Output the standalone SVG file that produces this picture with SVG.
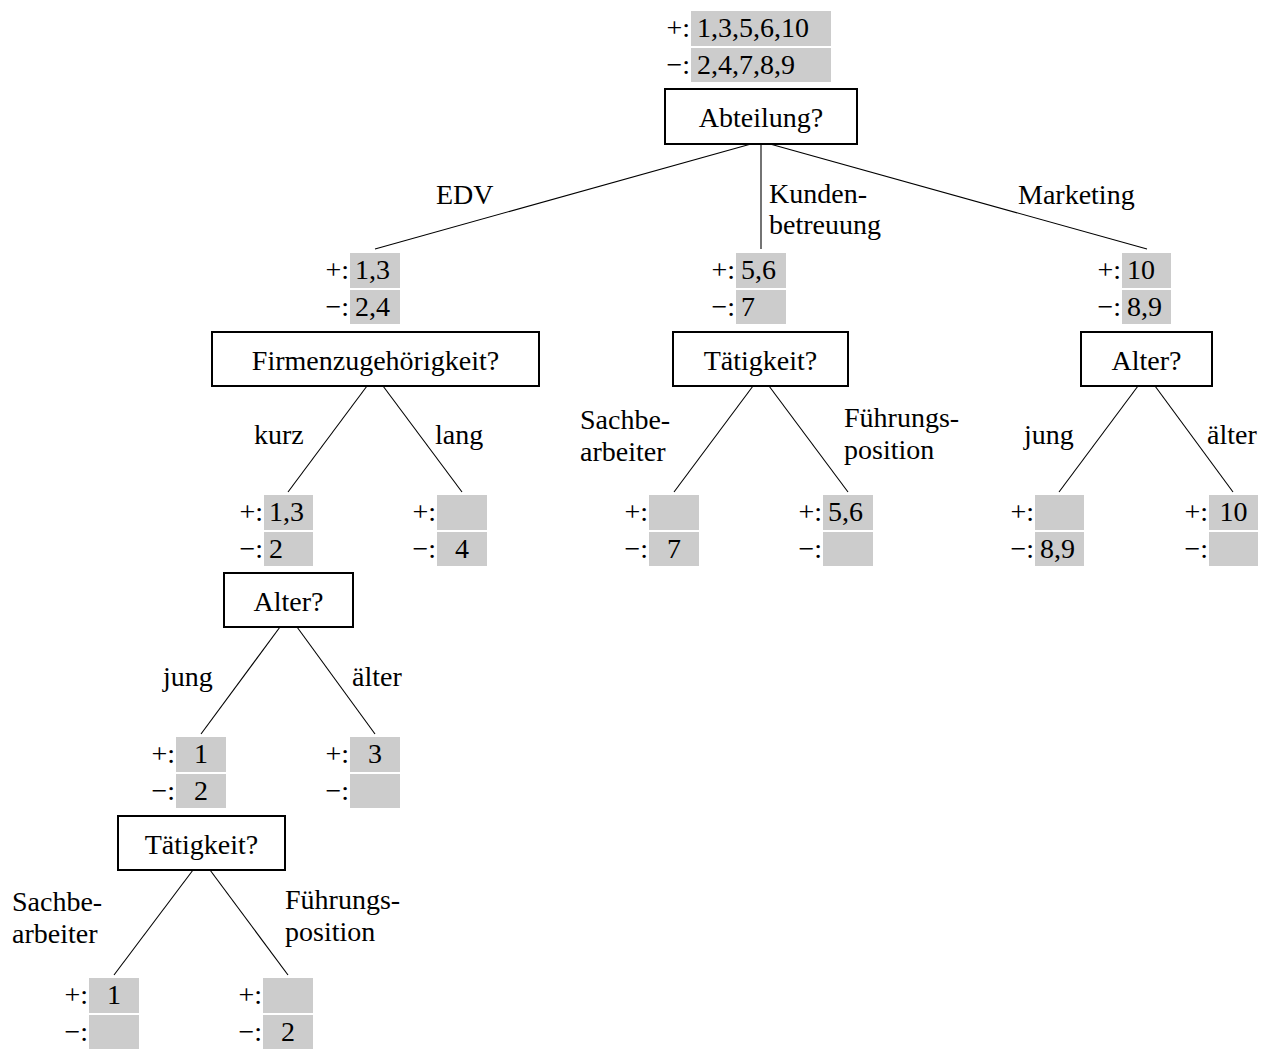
<svg xmlns="http://www.w3.org/2000/svg" width="1265" height="1050" viewBox="0 0 1265 1050">
  <style>
    text { font-family: "Liberation Serif", "Times New Roman", serif; font-size: 28px; fill: #000; }
    .cnt { fill: #cccccc; }
    .q { fill: #fff; stroke: #000; stroke-width: 2; }
    .sgn { text-anchor: end; }
    .mid { text-anchor: middle; }
    .edge { stroke: #000; stroke-width: 1.1; fill: none; }
  </style>

  <!-- connectors -->
  <g id="connectors" class="edge">
    <line x1="751" y1="144" x2="375" y2="249"/>
    <line x1="761" y1="144" x2="761" y2="249"/>
    <line x1="770" y1="144" x2="1147" y2="249"/>

    <line x1="367" y1="386" x2="288" y2="492"/>
    <line x1="383" y1="386" x2="462" y2="492"/>

    <line x1="753" y1="386" x2="674" y2="492"/>
    <line x1="769" y1="386" x2="848" y2="492"/>

    <line x1="1138" y1="386" x2="1059" y2="492"/>
    <line x1="1155" y1="386" x2="1233" y2="492"/>

    <line x1="280" y1="627" x2="201" y2="734"/>
    <line x1="297" y1="627" x2="375" y2="734"/>

    <line x1="193" y1="870" x2="114" y2="975"/>
    <line x1="210" y1="870" x2="288" y2="975"/>
  </g>

  <!-- edge labels -->
  <g id="edge-labels">
    <text x="436" y="204">EDV</text>
    <text x="769" y="203">Kunden-</text>
    <text x="769" y="234">betreuung</text>
    <text x="1018" y="204">Marketing</text>

    <text x="254" y="444">kurz</text>
    <text x="435" y="444">lang</text>

    <text x="580" y="429">Sachbe-</text>
    <text x="580" y="461">arbeiter</text>
    <text x="844" y="427">Führungs-</text>
    <text x="844" y="459">position</text>

    <text x="1024" y="444">jung</text>
    <text x="1207" y="444">älter</text>

    <text x="163" y="686">jung</text>
    <text x="352" y="686">älter</text>

    <text x="12" y="911">Sachbe-</text>
    <text x="12" y="943">arbeiter</text>
    <text x="285" y="909">Führungs-</text>
    <text x="285" y="941">position</text>
  </g>

  <!-- root: Abteilung -->
  <g id="n-root">
    <rect class="cnt" x="691" y="11" width="140" height="35"/>
    <rect class="cnt" x="691" y="48" width="140" height="34"/>
    <text class="sgn" x="690" y="37">+:</text>
    <text class="sgn" x="690" y="74">−:</text>
    <text x="697" y="37">1,3,5,6,10</text>
    <text x="697" y="74">2,4,7,8,9</text>
    <rect class="q" x="665" y="89" width="192" height="55"/>
    <text class="mid" x="761" y="127">Abteilung?</text>
  </g>

  <!-- EDV: Firmenzugehörigkeit -->
  <g id="n-edv">
    <rect class="cnt" x="350" y="253" width="50" height="35"/>
    <rect class="cnt" x="350" y="290" width="50" height="34"/>
    <text class="sgn" x="349" y="279">+:</text>
    <text class="sgn" x="349" y="316">−:</text>
    <text x="355" y="279">1,3</text>
    <text x="355" y="316">2,4</text>
    <rect class="q" x="212" y="332" width="327" height="54"/>
    <text class="mid" x="375.5" y="370">Firmenzugehörigkeit?</text>
  </g>

  <!-- Kundenbetreuung: Tätigkeit -->
  <g id="n-kunden">
    <rect class="cnt" x="736" y="253" width="50" height="35"/>
    <rect class="cnt" x="736" y="290" width="50" height="34"/>
    <text class="sgn" x="735" y="279">+:</text>
    <text class="sgn" x="735" y="316">−:</text>
    <text x="741" y="279">5,6</text>
    <text x="741" y="316">7</text>
    <rect class="q" x="673" y="332" width="175" height="54"/>
    <text class="mid" x="760.5" y="370">Tätigkeit?</text>
  </g>

  <!-- Marketing: Alter -->
  <g id="n-marketing">
    <rect class="cnt" x="1122" y="253" width="49" height="35"/>
    <rect class="cnt" x="1122" y="290" width="49" height="34"/>
    <text class="sgn" x="1121" y="279">+:</text>
    <text class="sgn" x="1121" y="316">−:</text>
    <text x="1127" y="279">10</text>
    <text x="1127" y="316">8,9</text>
    <rect class="q" x="1081" y="332" width="131" height="54"/>
    <text class="mid" x="1146.5" y="370">Alter?</text>
  </g>

  <!-- EDV / kurz: Alter -->
  <g id="n-edv-kurz">
    <rect class="cnt" x="264" y="495" width="49" height="35"/>
    <rect class="cnt" x="264" y="532" width="49" height="34"/>
    <text class="sgn" x="263" y="521">+:</text>
    <text class="sgn" x="263" y="558">−:</text>
    <text x="269" y="521">1,3</text>
    <text x="269" y="558">2</text>
    <rect class="q" x="224" y="573" width="129" height="54"/>
    <text class="mid" x="288.5" y="611">Alter?</text>
  </g>

  <!-- EDV / lang: leaf -->
  <g id="n-edv-lang">
    <rect class="cnt" x="437" y="495" width="50" height="35"/>
    <rect class="cnt" x="437" y="532" width="50" height="34"/>
    <text class="sgn" x="436" y="521">+:</text>
    <text class="sgn" x="436" y="558">−:</text>
    <text class="mid" x="462" y="558">4</text>
  </g>

  <!-- Kundenbetreuung / Sachbearbeiter: leaf -->
  <g id="n-kunden-sach">
    <rect class="cnt" x="649" y="495" width="50" height="35"/>
    <rect class="cnt" x="649" y="532" width="50" height="34"/>
    <text class="sgn" x="648" y="521">+:</text>
    <text class="sgn" x="648" y="558">−:</text>
    <text class="mid" x="674" y="558">7</text>
  </g>

  <!-- Kundenbetreuung / Führungsposition: leaf -->
  <g id="n-kunden-fuehr">
    <rect class="cnt" x="823" y="495" width="50" height="35"/>
    <rect class="cnt" x="823" y="532" width="50" height="34"/>
    <text class="sgn" x="822" y="521">+:</text>
    <text class="sgn" x="822" y="558">−:</text>
    <text x="828" y="521">5,6</text>
  </g>

  <!-- Marketing / jung: leaf -->
  <g id="n-mkt-jung">
    <rect class="cnt" x="1035" y="495" width="49" height="35"/>
    <rect class="cnt" x="1035" y="532" width="49" height="34"/>
    <text class="sgn" x="1034" y="521">+:</text>
    <text class="sgn" x="1034" y="558">−:</text>
    <text x="1040" y="558">8,9</text>
  </g>

  <!-- Marketing / älter: leaf -->
  <g id="n-mkt-aelter">
    <rect class="cnt" x="1209" y="495" width="49" height="35"/>
    <rect class="cnt" x="1209" y="532" width="49" height="34"/>
    <text class="sgn" x="1208" y="521">+:</text>
    <text class="sgn" x="1208" y="558">−:</text>
    <text class="mid" x="1233.5" y="521">10</text>
  </g>

  <!-- EDV / kurz / jung: Tätigkeit -->
  <g id="n-kurz-jung">
    <rect class="cnt" x="176" y="737" width="50" height="35"/>
    <rect class="cnt" x="176" y="774" width="50" height="34"/>
    <text class="sgn" x="175" y="763">+:</text>
    <text class="sgn" x="175" y="800">−:</text>
    <text class="mid" x="201" y="763">1</text>
    <text class="mid" x="201" y="800">2</text>
    <rect class="q" x="118" y="816" width="167" height="54"/>
    <text class="mid" x="201.5" y="854">Tätigkeit?</text>
  </g>

  <!-- EDV / kurz / älter: leaf -->
  <g id="n-kurz-aelter">
    <rect class="cnt" x="350" y="737" width="50" height="35"/>
    <rect class="cnt" x="350" y="774" width="50" height="34"/>
    <text class="sgn" x="349" y="763">+:</text>
    <text class="sgn" x="349" y="800">−:</text>
    <text class="mid" x="375" y="763">3</text>
  </g>

  <!-- EDV / kurz / jung / Sachbearbeiter: leaf -->
  <g id="n-jung-sach">
    <rect class="cnt" x="89" y="978" width="50" height="35"/>
    <rect class="cnt" x="89" y="1015" width="50" height="34"/>
    <text class="sgn" x="88" y="1004">+:</text>
    <text class="sgn" x="88" y="1041">−:</text>
    <text class="mid" x="114" y="1004">1</text>
  </g>

  <!-- EDV / kurz / jung / Führungsposition: leaf -->
  <g id="n-jung-fuehr">
    <rect class="cnt" x="263" y="978" width="50" height="35"/>
    <rect class="cnt" x="263" y="1015" width="50" height="34"/>
    <text class="sgn" x="262" y="1004">+:</text>
    <text class="sgn" x="262" y="1041">−:</text>
    <text class="mid" x="288" y="1041">2</text>
  </g>
</svg>
